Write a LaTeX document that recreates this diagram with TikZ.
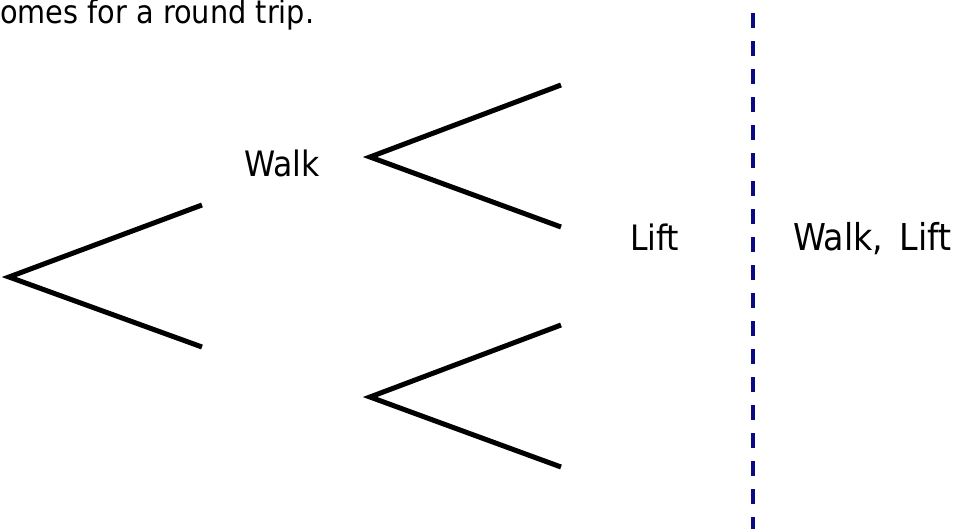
\documentclass[tikz,border=0pt]{standalone}
\usepackage{fontspec}
\setmainfont{DejaVu Sans Condensed}
\usetikzlibrary{calc,positioning}

\definecolor{divblue}{RGB}{10,10,130}

\tikzset{
  branch/.style={line width=5pt, line join=miter},
  lbl/.style={anchor=base west, inner sep=0pt, font=\fontsize{35}{40}\selectfont},
  headline/.style={anchor=base west, inner sep=0pt, font=\fontsize{32}{38}\selectfont},
  divider/.style={line width=4pt, divblue, dash pattern=on 15pt off 13pt, dash phase=15pt}
}

\begin{document}
\begin{tikzpicture}[x=1pt,y=-1pt]
    \useasboundingbox (0,0) rectangle (965,529);

    \node[headline] (title) at (0,24) {omes for a round trip.};

    % first trip
    \coordinate (start)  at (9,277);
    \coordinate (up)     at (202,205);
    \coordinate (down)   at (202,347);
    \draw[branch] (up) -- (start) -- (down);

    % return trip
    \coordinate (wroot)  at (370,157);
    \coordinate (wup)    at (561,85);
    \coordinate (wdown)  at (561,227);
    \draw[branch] (wup) -- (wroot) -- (wdown);

    \coordinate (lroot)  at (370,397);
    \coordinate (lup)    at (561,325);
    \coordinate (ldown)  at (561,467);
    \draw[branch] (lup) -- (lroot) -- (ldown);

    \node[lbl] (walk) at (244,177) {Walk};
    \node[lbl] (lift) at (630,250) {Lift};
    \node[lbl, font=\fontsize{37}{42}\selectfont] (both) at (793,250) {Walk,\hspace{6pt} Lift};

    \coordinate (divtop) at (753,0);
    \coordinate (divbot) at (753,529);
    \draw[divider] (divtop) -- (divbot);

\end{tikzpicture}
\end{document}
